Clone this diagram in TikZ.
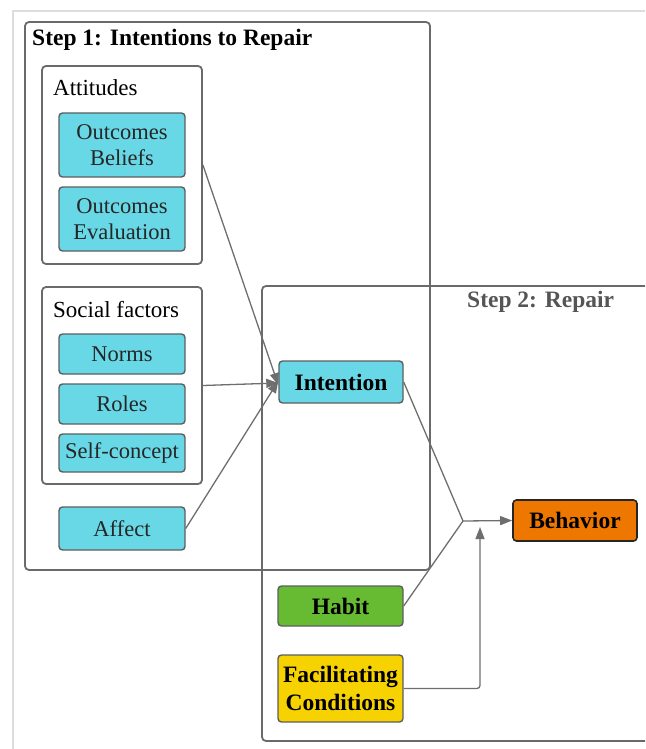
\documentclass[tikz,border=0pt]{standalone}
\usepackage{fontspec}
\setmainfont{Liberation Serif}
\usetikzlibrary{arrows.meta}
\definecolor{cyanfill}{HTML}{68D8E6}
\definecolor{boxline}{HTML}{5E5E5E}
\definecolor{contline}{HTML}{6A6A6A}
\definecolor{connline}{HTML}{6E6E6E}
\definecolor{habitfill}{HTML}{66BB33}
\definecolor{facfill}{HTML}{F5D200}
\definecolor{behfill}{HTML}{EE7700}
\definecolor{framegray}{HTML}{DDDDDD}
\definecolor{txtgray}{HTML}{555555}
\tikzset{
  container/.style={draw=contline, line width=1.8pt, rounded corners=4pt, inner sep=0pt},
  cbox/.style={draw=boxline, line width=1.4pt, fill=cyanfill, rounded corners=3.5pt,
    minimum width=126pt, align=center, inner sep=0pt, text=black!85,
    font=\fontsize{22.5}{26}\selectfont},
  bbox/.style={draw=boxline, line width=1.4pt, rounded corners=3.5pt, minimum width=125pt,
    align=center, inner sep=0pt, font=\bfseries\fontsize{23.5}{27}\selectfont},
  title/.style={anchor=west, inner sep=0pt, font=\fontsize{23}{25}\selectfont},
  btitle/.style={anchor=west, inner sep=0pt, font=\bfseries\fontsize{23.5}{25}\selectfont},
  conn/.style={draw=connline, line width=1.3pt},
  arr/.style={conn, -{Triangle[length=12pt,width=9pt]}},
}
\begin{document}
\begin{tikzpicture}[x=1pt,y=-1pt]
\useasboundingbox (0,0) rectangle (645,749);
% faint outer frame
\draw[framegray, line width=1.2pt] (13,749) -- (13,11) -- (645,11);
% containers
\node[container, minimum width=405pt, minimum height=548pt] (step1) at (227.5,296) {};
\node[btitle] (step1t) at (32,40) {Step 1: Intentions to Repair};
\node[container, minimum width=160pt, minimum height=198pt] (att) at (122,165) {};
\node[title] (attt) at (53,88) {Attitudes};
\node[container, minimum width=160pt, minimum height=197pt] (soc) at (122,385.5) {};
\node[title] (soct) at (53,310) {Social factors};
\begin{scope}
\clip (0,0) rectangle (645,749);
\node[container, minimum width=390pt, minimum height=455pt] (step2) at (457,513.5) {};
\end{scope}
\node[btitle, text=txtgray] (step2t) at (467,302) {Step 2: Repair};
% cyan boxes
\node[cbox, minimum height=64pt] (ob) at (122,145) {Outcomes\\Beliefs};
\node[cbox, minimum height=64pt] (oe) at (122,219) {Outcomes\\Evaluation};
\node[cbox, minimum height=40pt] (norms) at (122,354) {Norms};
\node[cbox, minimum height=40pt] (roles) at (122,404) {Roles};
\node[cbox, minimum height=38pt] (self) at (122,453) {Self-concept};
\node[cbox, minimum height=43pt] (affect) at (122,528.5) {Affect};
\node[bbox, fill=cyanfill, minimum width=124pt, minimum height=42pt] (int) at (341,382) {Intention};
\node[bbox, fill=behfill, draw=black!85, line width=1.6pt, minimum width=124pt, minimum height=41pt] (beh) at (575,520.5) {Behavior};
\node[bbox, fill=habitfill, minimum height=40pt] (habit) at (340.5,606) {Habit};
\node[bbox, fill=facfill, minimum height=67pt, font=\bfseries\fontsize{23.5}{28}\selectfont] (fac) at (340.5,688.5) {Facilitating\\Conditions};
% connectors
\coordinate (junc) at (463,521);
\coordinate (facend) at (480,527);
\draw[arr] (att.east) -- ([yshift=-3pt]int.west);
\draw[arr] (soc.east) -- ([yshift=-1pt]int.west);
\draw[arr] (affect.east) -- ([yshift=1pt]int.west);
\draw[conn] (int.east) -- (junc);
\draw[conn] (habit.east) -- (junc);
\draw[arr] (junc) -- (beh.west);
\draw[arr, rounded corners=3pt] (fac.east) -| (facend);
\end{tikzpicture}
\end{document}
